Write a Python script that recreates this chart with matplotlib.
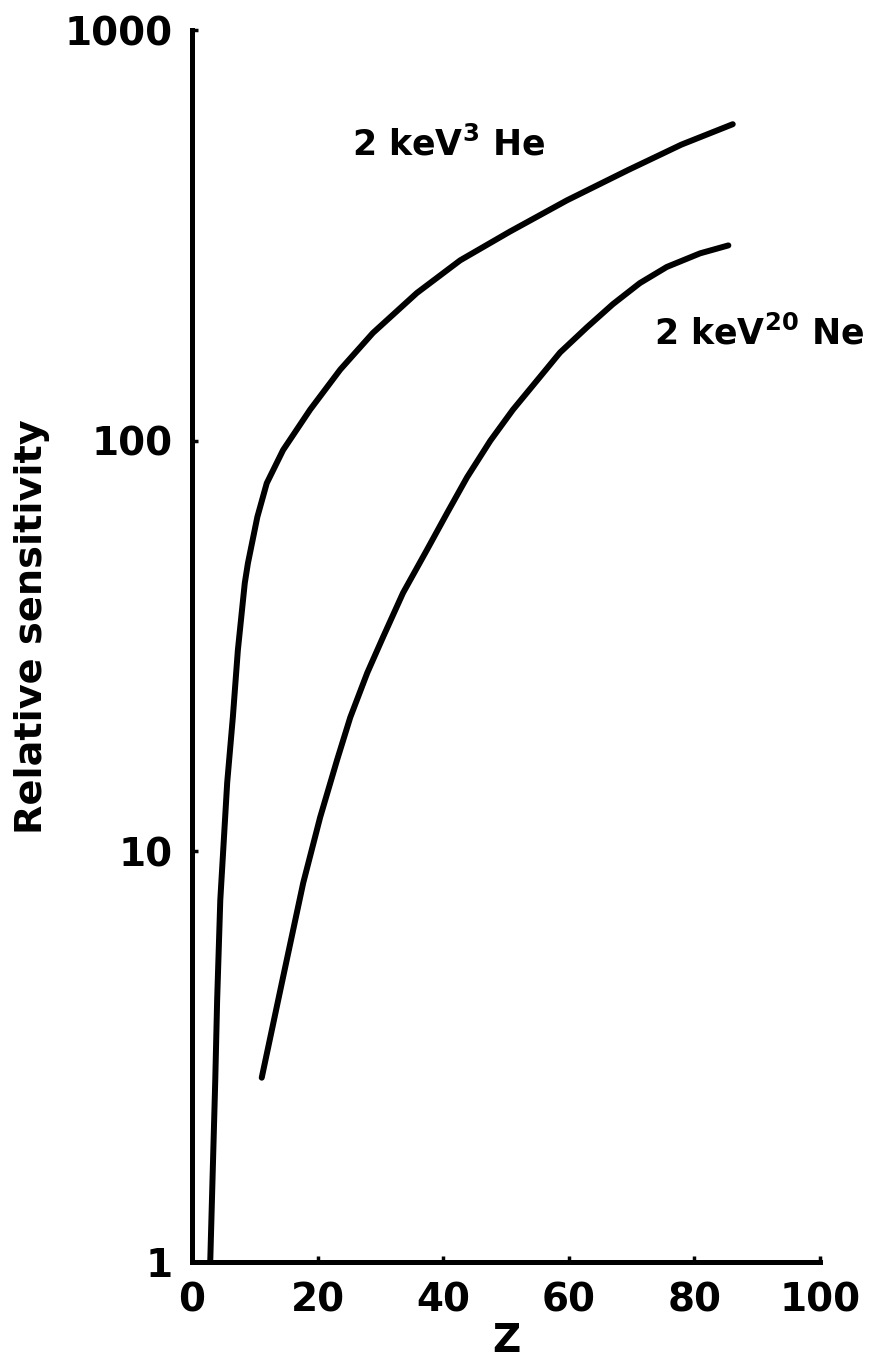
import numpy as np
import matplotlib
matplotlib.use('Agg')
import matplotlib.pyplot as plt
from matplotlib.ticker import FixedLocator, NullLocator

plt.rcParams['font.family'] = ['DejaVu Sans']
plt.rcParams['font.weight'] = 'bold'
plt.rcParams['mathtext.fontset'] = 'dejavusans'
plt.rcParams['mathtext.default'] = 'bf'

# 2 keV 3He sensitivity vs atomic number
he_z = [2.9, 3.7, 4.0, 4.5, 5.6, 6.5, 7.3, 8.4, 8.9, 10.4, 11.9, 14.5,
        18.8, 23.6, 28.8, 35.8, 42.7, 50.6, 59.7, 69.4, 77.9, 86.1]
he_sens = [1.0, 2.77, 4.34, 7.6, 14.7, 21.2, 30.9, 45.0, 50.3, 65.2, 78.8,
           94.9, 119, 149, 183, 229, 275, 323, 385, 456, 526, 590]

# 2 keV 20Ne sensitivity vs atomic number
ne_z = [11.1, 14.5, 17.7, 20.4, 23.1, 25.2, 27.9, 30.4, 33.6, 37.4, 40.6,
        43.8, 47.5, 51.1, 55.4, 58.6, 62.9, 67.0, 71.3, 75.6, 80.9, 85.4]
ne_sens = [2.81, 4.94, 8.37, 12.1, 16.7, 21.2, 27.2, 33.2, 42.6, 54.2, 66.6,
           81.5, 100, 119, 143, 164, 189, 215, 242, 265, 286, 299]

x_ticks = [0, 20, 40, 60, 80, 100]
y_ticks = [1, 10, 100, 1000]

fig = plt.figure(figsize=(8.78, 13.69), dpi=100)
ax = fig.add_axes([0.2187, 0.0782, 0.934 - 0.2187, 0.978 - 0.0782])

for z, s in ((he_z, he_sens), (ne_z, ne_sens)):
    ax.plot(z, s, color='black', lw=4.3, solid_capstyle='round',
            solid_joinstyle='round')

ax.set_yscale('log')
ax.set_xlim(0, 100)
ax.set_ylim(1, 1000)

ax.xaxis.set_major_locator(FixedLocator(x_ticks))
ax.yaxis.set_major_locator(FixedLocator(y_ticks))
ax.yaxis.set_minor_locator(NullLocator())
ax.set_xticklabels([str(v) for v in x_ticks])
ax.set_yticklabels([str(v) for v in y_ticks])

for side in ('top', 'right'):
    ax.spines[side].set_visible(False)
for side in ('left', 'bottom'):
    ax.spines[side].set_linewidth(3.6)

ax.tick_params(direction='in', length=4, width=2.5, labelsize=28, pad=14)

ax.set_xlabel('Z', fontsize=28, fontweight='bold', labelpad=2)
ax.set_ylabel('Relative sensitivity', fontsize=27.5, fontweight='bold')
ax.yaxis.set_label_coords(-0.226, 0.516)

ax.text(25.5, 526, r'2 keV$^{3}$ He', fontsize=25, fontweight='bold',
        va='center', ha='left')
ax.text(73.5, 183, r'2 keV$^{20}$ Ne', fontsize=25, fontweight='bold',
        va='center', ha='left', clip_on=False)

fig.savefig('out.png', dpi=100)
